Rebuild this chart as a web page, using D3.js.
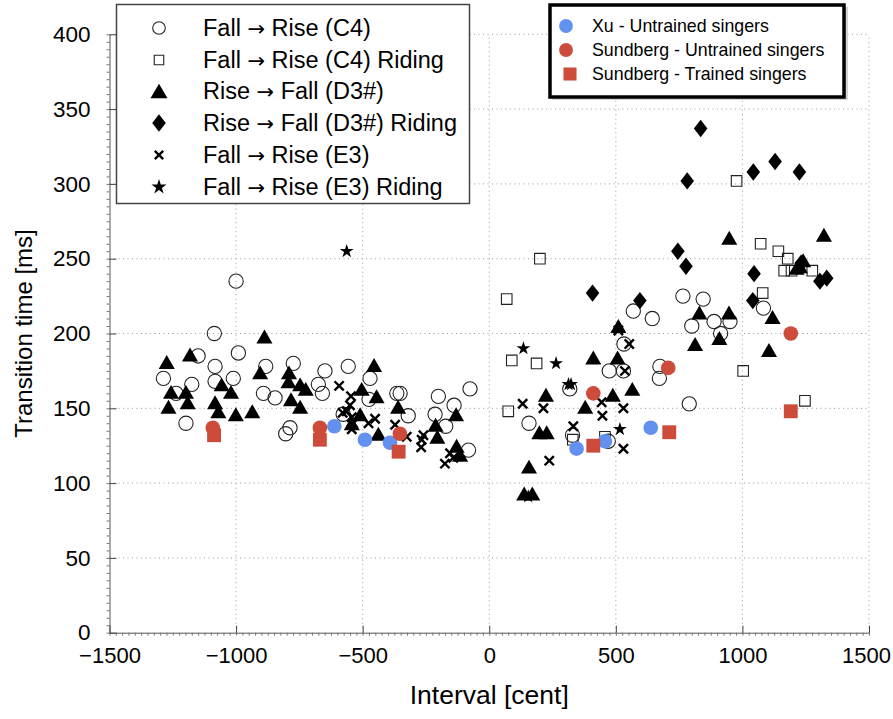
<!DOCTYPE html>
<html><head><meta charset="utf-8">
<script src="https://cdn.jsdelivr.net/npm/d3@7"></script>
<style>
body{margin:0;background:#fff;}
text{font-family:"Liberation Sans",Arial,Helvetica,sans-serif;fill:#000;}
</style></head><body>
<svg id="chart" width="893" height="719"></svg>
<script>
const xTicks=[-1500,-1000,-500,0,500,1000,1500];
const yTicks=[0,50,100,150,200,250,300,350,400];

const fallRiseC4=[[-1287,170],[-1237,160],[-1198,140],[-1175,166],[-1150,185],[-1086,200],[-1083,178],[-1083,168],[-1011,170],[-1000,235],[-991,187],[-892,160],[-883,178],[-846,157],[-804,133],[-787,137],[-774,180],[-675,166],[-659,160],[-649,175],[-577,146],[-557,178],[-475,156],[-471,170],[-365,160],[-352,160],[-320,145],[-214,146],[-201,158],[-172,138],[-139,152],[-82,122],[-76,163],
[157,140],[318,163],[329,132],[470,128],[474,175],[530,175],[532,193],[569,215],[644,210],[672,170],[674,178],[765,225],[790,153],[800,205],[845,223],[888,208],[914,200],[951,208],[1083,217]];
const fallRiseC4Riding=[[69,223],[75,148],[89,182],[187,180],[200,250],[330,129],[457,131],[977,302],[1003,175],[1072,260],[1080,227],[1142,255],[1165,242],[1179,250],[1194,242],[1247,155],[1276,242]];
const riseFallD3=[[-1274,181],[-1267,151],[-1257,161],[-1198,161],[-1191,154],[-1182,186],[-1083,154],[-1070,148],[-1057,166],[-1020,161],[-1001,146],[-936,148],[-905,174],[-888,198],[-793,168],[-791,174],[-783,156],[-747,166],[-747,151],[-725,163],[-543,140],[-510,146],[-504,163],[-455,179],[-445,158],[-438,133],[-360,151],[-212,139],[-205,131],[-131,146],[-129,125],[-115,119],
[138,93],[157,111],[170,93],[198,134],[224,159],[227,134],[379,151],[411,184],[488,159],[507,184],[510,205],[565,163],[813,193],[830,214],[909,197],[947,214],[948,264],[1105,189],[1119,211],[1214,244],[1227,245],[1240,249],[1322,266]];
const riseFallD3Riding=[[408,227],[595,222],[745,255],[777,245],[782,302],[835,337],[1041,222],[1043,308],[1046,240],[1129,315],[1225,308],[1232,247],[1306,235],[1333,237]];
const fallRiseE3=[[-593,165],[-579,147],[-563,148],[-550,152],[-546,158],[-543,144],[-543,136],[-538,140],[-477,140],[-451,143],[-372,139],[-326,131],[-269,124],[-267,129],[-260,132],[-175,113],[-155,120],[-142,117],
[132,153],[214,150],[237,115],[332,138],[444,154],[447,145],[510,202],[530,150],[530,123],[536,175],[553,193]];
const fallRiseE3Riding=[[-563,255],[135,190],[154,91],[264,180],[313,166],[323,166],[516,136]];
const xuUntrained=[[-612,138],[-491,129],[-392,127],[345,123],[457,128],[638,137]];
const sundbergUntrained=[[-1092,137],[-669,137],[-353,133],[411,160],[707,177],[1191,200]];
const sundbergTrained=[[-1087,132],[-669,129],[-358,121],[411,125],[711,134],[1191,148]];

const legend1Parts=[["Fall","Rise (C4)"],["Fall","Rise (C4) Riding"],["Rise","Fall (D3#)"],["Rise","Fall (D3#) Riding"],["Fall","Rise (E3)"],["Fall","Rise (E3) Riding"]];
const legend2Labels=["Xu - Untrained singers","Sundberg - Untrained singers","Sundberg - Trained singers"];

const svg=d3.select("#chart");
const x=d3.scaleLinear().domain([-1500,1500]).range([109.5,869]);
const y=d3.scaleLinear().domain([0,400]).range([632.7,34.3]);

// custom symbols
const symX={draw(c,s){const r=Math.sqrt(s)/2;c.moveTo(-r,-r);c.lineTo(r,r);c.moveTo(-r,r);c.lineTo(r,-r);}};
const symDiamond={draw(c,s){const h=Math.sqrt(2*s/0.78),w=0.78*h;c.moveTo(0,-h/2);c.lineTo(w/2,0);c.lineTo(0,h/2);c.lineTo(-w/2,0);c.closePath();}};
const symTri={draw(c,s){const a=Math.sqrt(4*s/Math.sqrt(3)),h=a*Math.sqrt(3)/2;c.moveTo(0,-h/2);c.lineTo(a/2,h/2);c.lineTo(-a/2,h/2);c.closePath();}};
const symSquare={draw(c,s){const r=Math.sqrt(s)/2;c.rect(-r,-r,2*r,2*r);}};

const series=[
 {data:fallRiseC4,type:d3.symbolCircle,size:160,lsize:125,fill:"#fff",fo:0,stroke:"#222",sw:1.1},
 {data:fallRiseC4Riding,type:symSquare,size:112,lsize:90,fill:"#fff",fo:0,stroke:"#222",sw:1.1},
 {data:riseFallD3,type:symTri,size:112,lsize:125,fill:"#000",fo:1,stroke:"none",sw:0},
 {data:riseFallD3Riding,type:symDiamond,size:118,lsize:118,fill:"#000",fo:1,stroke:"none",sw:0},
 {data:fallRiseE3,type:symX,size:85,lsize:70,fill:"none",fo:0,stroke:"#000",sw:2.4},
 {data:fallRiseE3Riding,type:d3.symbolStar,size:60,lsize:70,fill:"#000",fo:1,stroke:"none",sw:0},
 {data:xuUntrained,type:d3.symbolCircle,size:168,lsize:150,fill:"#6391f0",fo:1,stroke:"none",sw:0},
 {data:sundbergUntrained,type:d3.symbolCircle,size:168,lsize:150,fill:"#cc4b3b",fo:1,stroke:"none",sw:0},
 {data:sundbergTrained,type:symSquare,size:192,lsize:170,fill:"#cc4b3b",fo:1,stroke:"none",sw:0}
];

// gridlines
const grid=svg.append("g").attr("stroke","#999").attr("stroke-width",1).attr("stroke-dasharray","1,3.5");
grid.selectAll("line.v").data(xTicks.filter(d=>d>-1500)).join("line").attr("class","v")
 .attr("x1",d=>x(d)).attr("x2",d=>x(d)).attr("y1",y(0)).attr("y2",y(400));
grid.selectAll("line.h").data(yTicks.filter(d=>d>0)).join("line").attr("class","h")
 .attr("x1",x(-1500)).attr("x2",x(1500)).attr("y1",d=>y(d)).attr("y2",d=>y(d));

// minor ticks
const yMinor=d3.range(0,401,5), xMinor=d3.range(-1500,1501,25);
svg.append("g").attr("transform",`translate(${x(-1500)},0)`)
 .call(d3.axisLeft(y).tickValues(yMinor).tickSizeInner(3).tickSizeOuter(0).tickFormat(""))
 .call(g=>{g.selectAll("line").attr("stroke","#777");g.select(".domain").attr("stroke","#555");});
svg.append("g").attr("transform",`translate(0,${y(0)})`)
 .call(d3.axisBottom(x).tickValues(xMinor).tickSizeInner(3).tickSizeOuter(0).tickFormat(""))
 .call(g=>{g.selectAll("line").attr("stroke","#777");g.select(".domain").attr("stroke","#555");});

// major axes
const yAxis=svg.append("g").attr("transform",`translate(${x(-1500)},0)`)
 .call(d3.axisLeft(y).tickValues(yTicks).tickSizeInner(-7).tickSizeOuter(0).tickPadding(19).tickFormat(d3.format("d")));
yAxis.select(".domain").remove();
yAxis.selectAll("line").attr("stroke","#444");
yAxis.selectAll("text").attr("font-size",22.5).attr("font-family","Liberation Sans, Arial, sans-serif");
const xAxis=svg.append("g").attr("transform",`translate(0,${y(0)})`)
 .call(d3.axisBottom(x).tickValues(xTicks).tickSizeInner(-7).tickSizeOuter(0).tickPadding(15).tickFormat(d=>d<0?"\u2212"+Math.abs(d):String(d)));
xAxis.select(".domain").remove();
xAxis.selectAll("line").attr("stroke","#444");
xAxis.selectAll("text").attr("font-size",22).attr("font-family","Liberation Sans, Arial, sans-serif")
 .attr("dx",d=>d===1500?"-3":"0");

svg.append("text").attr("x",x(0)).attr("y",704).attr("text-anchor","middle").attr("font-size",26.5).text("Interval [cent]");
svg.append("text").attr("transform",`translate(32,${y(200)}) rotate(-90)`).attr("text-anchor","middle").attr("font-size",24).text("Transition time [ms]");

// points
const pts=svg.append("g");
series.forEach(s=>{
 pts.append("g").selectAll("path").data(s.data).join("path")
  .attr("transform",d=>`translate(${x(d[0])},${y(d[1])})`)
  .attr("d",d3.symbol().type(s.type).size(s.size))
  .attr("fill",s.fill).attr("fill-opacity",s.fo).attr("stroke",s.stroke).attr("stroke-width",s.sw);
});

// legend 1
const lg1=svg.append("g");
lg1.append("rect").attr("x",116.5).attr("y",4.5).attr("width",353).attr("height",199).attr("fill","#fff").attr("stroke","#444").attr("stroke-width",1.5);
const l1y=[28,60,91,123,155,187];
series.slice(0,6).forEach((s,i)=>{
 lg1.append("path").attr("transform",`translate(159,${l1y[i]})`).attr("d",d3.symbol().type(s.type).size(s.lsize))
  .attr("fill",s.fill).attr("fill-opacity",s.fo).attr("stroke",s.stroke).attr("stroke-width",s.sw);
 const t=lg1.append("text").attr("x",203).attr("y",l1y[i]).attr("dy","0.36em").attr("font-size",23.5);
 t.append("tspan").text(legend1Parts[i][0]+" ");
 t.append("tspan").attr("font-family","DejaVu Sans").attr("font-size",21).text("\u2192");
 t.append("tspan").text(" "+legend1Parts[i][1]);
});

// legend 2
const lg2=svg.append("g");
lg2.append("rect").attr("x",552).attr("y",7).attr("width",296).attr("height",93).attr("fill","#aaa").attr("opacity",0.5);
lg2.append("rect").attr("x",550).attr("y",5).attr("width",294).attr("height",92).attr("fill","#fff").attr("stroke","#000").attr("stroke-width",3.5);
const l2y=[26,50,74];
series.slice(6).forEach((s,i)=>{
 lg2.append("path").attr("transform",`translate(${i===2?570:566},${l2y[i]})`).attr("d",d3.symbol().type(s.type).size(s.lsize))
  .attr("fill",s.fill);
 lg2.append("text").attr("x",592).attr("y",l2y[i]).attr("dy","0.36em").attr("font-size",17.8).text(legend2Labels[i]);
});
</script>
</body></html>
